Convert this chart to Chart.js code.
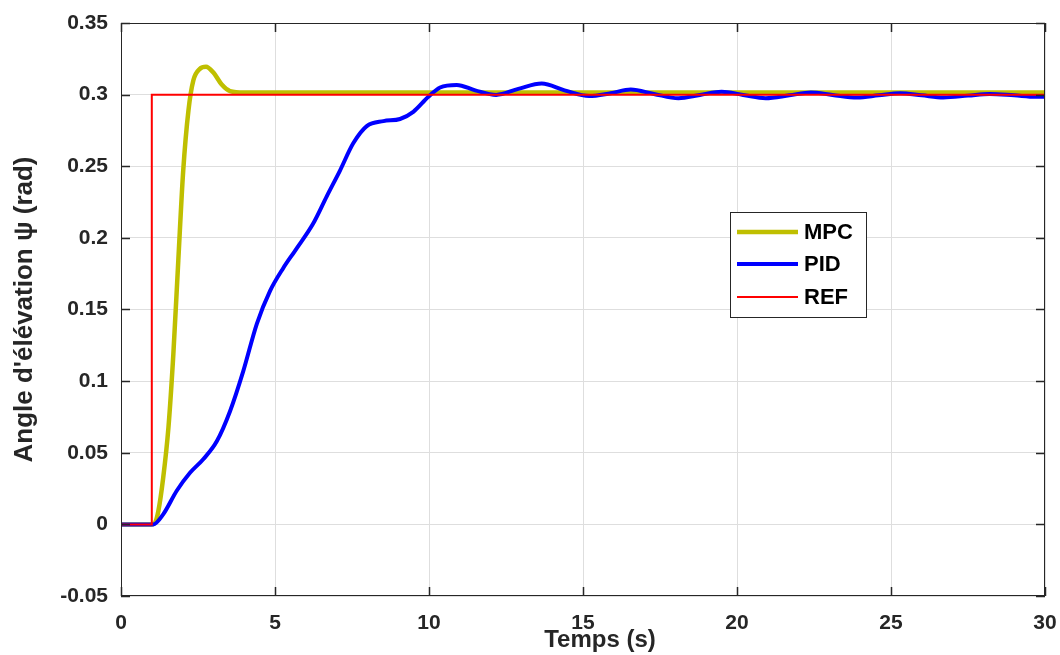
<!DOCTYPE html>
<html>
<head>
<meta charset="utf-8">
<title>MPC vs PID</title>
<script src="https://cdn.jsdelivr.net/npm/chart.js@4.4.1/dist/chart.umd.min.js"></script>
<style>
  html, body { margin: 0; padding: 0; background: #fff; }
  #wrap { width: 1060px; height: 655px; }
</style>
</head>
<body>
<div id="wrap"><canvas id="chart" width="1060" height="655"></canvas></div>
<script>
  // time axis (s) and response values (rad)
  const xTicks = [0, 5, 10, 15, 20, 25, 30];
  const yTicks = [-0.05, 0, 0.05, 0.1, 0.15, 0.2, 0.25, 0.3, 0.35];

  const refTime = [0, 1, 1, 30];
  const refValue = [0, 0, 0.3, 0.3];

  const mpcTime = [0, 1.0, 1.1, 1.21, 1.37, 1.54, 1.70, 1.86, 2.02, 2.19, 2.35, 2.56, 2.76, 3.0, 3.27, 3.54, 4.0, 5.0, 30];
  const mpcValue = [0, 0, 0.001, 0.009, 0.0325, 0.0675, 0.119, 0.184, 0.247, 0.289, 0.310, 0.318, 0.3195, 0.3154, 0.307, 0.3025, 0.3015, 0.3015, 0.3015];

  const pidTime = [0, 1.0, 1.05, 1.37, 1.81, 2.24, 2.67, 3.11, 3.54, 3.97, 4.41, 4.84, 5.27, 5.65, 6.24, 6.68, 7.11, 7.54, 7.98, 8.52, 9.06, 9.49, 9.98, 10.36, 10.9, 11.5, 12.18, 12.9, 13.66, 14.4, 15.2, 15.9, 16.55, 17.3, 18.1, 18.8, 19.5, 20.2, 20.93, 21.7, 22.4, 23.1, 23.9, 24.6, 25.3, 26.0, 26.7, 27.5, 28.2, 29.0, 29.7, 30];
  const pidValue = [0, 0, 0, 0.007, 0.0235, 0.036, 0.0455, 0.058, 0.079, 0.107, 0.140, 0.163, 0.179, 0.191, 0.210, 0.229, 0.247, 0.266, 0.278, 0.2815, 0.283, 0.288, 0.2985, 0.305, 0.3068, 0.303, 0.2998, 0.304, 0.3077, 0.303, 0.299, 0.301, 0.3035, 0.3005, 0.2975, 0.2998, 0.302, 0.2998, 0.2975, 0.2995, 0.3015, 0.2998, 0.298, 0.2995, 0.301, 0.2995, 0.298, 0.2993, 0.3005, 0.2995, 0.2985, 0.2985];

  const FONT = "'Liberation Sans', Arial, Helvetica, sans-serif";
  const INK = "#262626";
  const X_TITLE = "Temps (s)";

  function pts(ts, vs) {
    return ts.map((t, i) => ({ x: t, y: vs[i] }));
  }

  // box around the axes + inward tick marks (matlab style), and the x label
  const framePlugin = {
    id: "frame",
    afterDatasetsDraw(chart) {
      const { ctx, chartArea: a, scales } = chart;
      const sx = scales.x, sy = scales.y;
      const len = 9;
      ctx.save();
      ctx.strokeStyle = INK;
      ctx.lineWidth = 1;
      ctx.strokeRect(a.left + 0.5, a.top + 0.5, a.right - a.left - 1, a.bottom - a.top - 1);
      ctx.lineWidth = 1.5;
      ctx.beginPath();
      xTicks.forEach((v) => {
        const px = Math.round(sx.getPixelForValue(v)) + 0.5;
        ctx.moveTo(px, a.bottom); ctx.lineTo(px, a.bottom - len);
        ctx.moveTo(px, a.top); ctx.lineTo(px, a.top + len);
      });
      yTicks.forEach((v) => {
        const py = Math.round(sy.getPixelForValue(v)) + 0.5;
        ctx.moveTo(a.left, py); ctx.lineTo(a.left + len, py);
        ctx.moveTo(a.right, py); ctx.lineTo(a.right - len, py);
      });
      ctx.stroke();

      // matlab puts the xlabel a bit right of centre here
      ctx.fillStyle = INK;
      ctx.font = "bold 24px " + FONT;
      ctx.textAlign = "center";
      ctx.textBaseline = "alphabetic";
      ctx.fillText(X_TITLE, sx.getPixelForValue(15) + 17, 647);
      ctx.restore();
    },
  };

  // legend box sitting inside the plot area
  const boxLegend = {
    id: "boxLegend",
    afterDraw(chart) {
      const { ctx } = chart;
      const bx = 730, by = 212, bw = 136, bh = 105;
      const rows = [232, 264, 297];
      ctx.save();
      ctx.fillStyle = "#fff";
      ctx.fillRect(bx, by, bw, bh);
      ctx.strokeStyle = INK;
      ctx.lineWidth = 1;
      ctx.strokeRect(bx + 0.5, by + 0.5, bw, bh);
      [0, 1, 2].forEach((i, k) => {
        const ds = chart.data.datasets[i];
        ctx.strokeStyle = ds.borderColor;
        ctx.lineWidth = ds.borderWidth;
        ctx.beginPath();
        ctx.moveTo(737, rows[k]);
        ctx.lineTo(798, rows[k]);
        ctx.stroke();
        ctx.fillStyle = "#000";
        ctx.font = "bold 22px " + FONT;
        ctx.textBaseline = "middle";
        ctx.textAlign = "left";
        ctx.fillText(ds.label, 804, rows[k] + 1);
      });
      ctx.restore();
    },
  };

  new Chart(document.getElementById("chart"), {
    type: "line",
    data: {
      datasets: [
        {
          label: "MPC",
          data: pts(mpcTime, mpcValue),
          borderColor: "#bfbf00",
          borderWidth: 4.5,
          cubicInterpolationMode: "monotone",
          pointRadius: 0,
          order: 3,
        },
        {
          label: "PID",
          data: pts(pidTime, pidValue),
          borderColor: "#0000ff",
          borderWidth: 4,
          cubicInterpolationMode: "monotone",
          pointRadius: 0,
          order: 2,
        },
        {
          label: "REF",
          data: pts(refTime, refValue),
          borderColor: "#ff0000",
          borderWidth: 2,
          tension: 0,
          pointRadius: 0,
          order: 1,
        },
      ],
    },
    options: {
      responsive: false,
      animation: false,
      layout: { padding: { top: 23, right: 15, left: 0, bottom: 0 } },
      plugins: {
        legend: { display: false },
        tooltip: { enabled: false },
      },
      scales: {
        x: {
          type: "linear",
          min: 0,
          max: 30,
          afterBuildTicks: (s) => { s.ticks = xTicks.map((v) => ({ value: v })); },
          afterFit: (s) => { s.height = 59; s.paddingLeft = 0; s.paddingRight = 0; },
          grid: { color: "#dedede", drawTicks: false },
          border: { display: false },
          ticks: {
            color: INK,
            padding: 15,
            font: { family: FONT, size: 21, weight: "bold" },
            callback: (v) => String(v),
          },
        },
        y: {
          type: "linear",
          min: -0.05,
          max: 0.35,
          afterBuildTicks: (s) => { s.ticks = yTicks.map((v) => ({ value: v })); },
          afterFit: (s) => { s.width = 121; s.paddingTop = 0; s.paddingBottom = 0; },
          grid: { color: "#dedede", drawTicks: false },
          border: { display: false },
          ticks: {
            color: INK,
            padding: 13,
            font: { family: FONT, size: 21, weight: "bold" },
            callback: (v) => String(Number(v.toFixed(2))),
          },
          title: {
            display: true,
            text: "Angle d'élévation ψ (rad)",
            color: INK,
            font: { family: FONT, size: 26, weight: "bold" },
            padding: { top: 9, bottom: 0 },
          },
        },
      },
    },
    plugins: [framePlugin, boxLegend],
  });
</script>
</body>
</html>
